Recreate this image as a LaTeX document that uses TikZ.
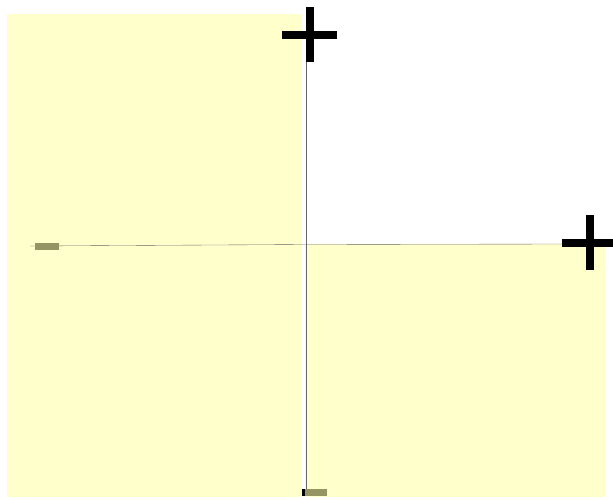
\documentclass[tikz,border=0pt]{standalone}
\definecolor{paleyellow}{HTML}{FFFFCC}
\definecolor{olivebar}{HTML}{959563}
\begin{document}
\begin{tikzpicture}[x=0.05cm, y=-0.05cm,
        field/.style={fill=paleyellow, draw=none},
        axis/.style={draw=black!60, line width=0.5pt},
        plusmark/.style={draw=black, line width=0.4cm},
        minusmark/.style={rectangle, fill=olivebar, draw=none, minimum width=1.2cm, minimum height=0.35cm, inner sep=0pt}]

    \useasboundingbox (0,0) rectangle (613,500);

    % shaded quadrants
    \fill [field] (7,14) rectangle (302,497);
    \fill [field] (305,244) rectangle (605,497);

    \coordinate (origin) at (306.5,244.5);
    \coordinate (top) at (306.5,60);
    \coordinate (bottom) at (306.5,489);
    \coordinate (left) at (30,246);
    \coordinate (right) at (570,244);

    \draw [axis] (left) -- (origin) -- (right);
    \draw [axis] (top) -- (origin) -- (bottom);

    % signs
    \node [minusmark] (negx) at (47,246) {};
    \node [minusmark] (negy) at (314.5,492.5) {};
    \fill (302,489) rectangle (305,496);
    \draw [plusmark] (282,34.5) -- (337,34.5) (309.5,7) -- (309.5,62);
    \draw [plusmark] (562,242.5) -- (617,242.5) (589.5,215) -- (589.5,270);
\end{tikzpicture}
\end{document}
